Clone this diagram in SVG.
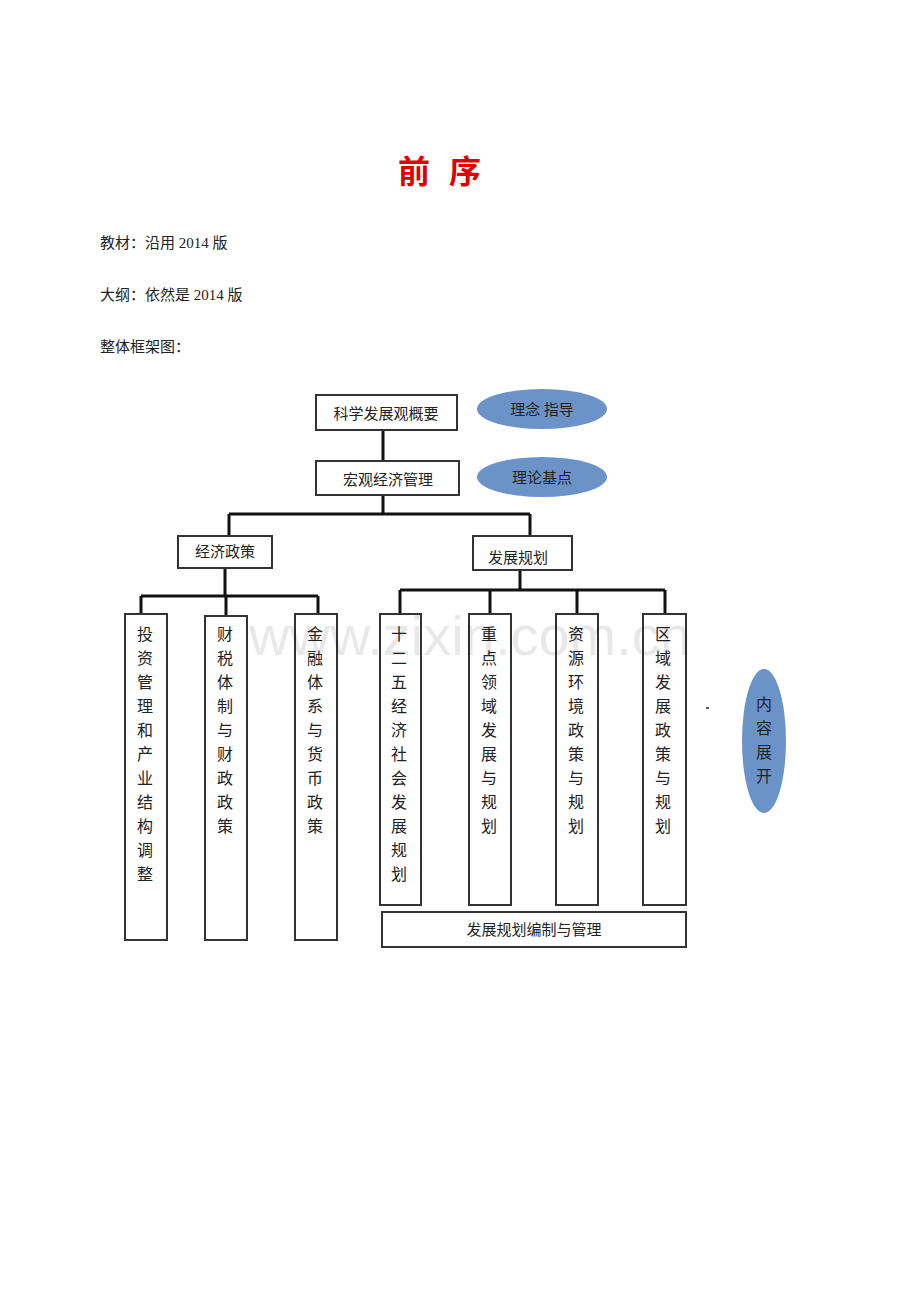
<svg xmlns="http://www.w3.org/2000/svg" width="920" height="1302" viewBox="0 0 920 1302">
<style>
text{font-family:"Noto Sans CJK SC","Liberation Sans",sans-serif;fill:#222}
.b{fill:#fff;stroke:#333;stroke-width:2}
.e{fill:#6b93c8}
.l{stroke:#111;stroke-width:3;fill:none}
.t{font-size:15px;text-anchor:middle}
.v{font-size:16px;text-anchor:middle}
.p{font-family:"Liberation Serif","Noto Sans CJK SC",serif;font-size:15px}
.r{font-size:32px;font-weight:bold;text-anchor:middle;fill:#e00000}
</style>
<rect width="920" height="1302" fill="#fff"/>
<text class="r" x="414" y="183">前</text>
<text class="r" x="465" y="183">序</text>
<text class="p" x="100" y="248">教材：沿用 2014 版</text>
<text class="p" x="100" y="300">大纲：依然是 2014 版</text>
<text class="p" x="100" y="352">整体框架图：</text>
<g id="connectors">
<path class="l" d="M383 430V461M383 495V514M229 514H530M229 514V538M530 514V538M225 568V596M141 596H318M141 596V615M226 596V617M318 596V615M520 570V590M400 590H665M400 590V615M490 590V615M577 590V615M665 590V615"/>
</g>
<g id="n1"><rect class="b" x="316" y="395" width="141" height="35"/><text class="t" x="386" y="419">科学发展观概要</text></g>
<g id="e1"><ellipse class="e" cx="542" cy="409" rx="65" ry="20"/><text class="t" x="542" y="415">理念 指导</text></g>
<g id="n2"><rect class="b" x="316" y="461" width="143" height="34"/><text class="t" x="388" y="485">宏观经济管理</text></g>
<g id="e2"><ellipse class="e" cx="542" cy="477" rx="65" ry="20"/><text class="t" x="542" y="483">理论基点</text></g>
<g id="n3"><rect class="b" x="178" y="536" width="94" height="32"/><text class="t" x="225" y="557">经济政策</text></g>
<g id="n4"><rect class="b" x="473" y="536" width="99" height="34"/><text class="t" x="518" y="563">发展规划</text></g>
<g id="c1"><rect class="b" x="125" y="614" width="42" height="326"/><text class="v"><tspan x="145" y="640">投</tspan><tspan x="145" y="664">资</tspan><tspan x="145" y="688">管</tspan><tspan x="145" y="712">理</tspan><tspan x="145" y="736">和</tspan><tspan x="145" y="760">产</tspan><tspan x="145" y="784">业</tspan><tspan x="145" y="808">结</tspan><tspan x="145" y="832">构</tspan><tspan x="145" y="856">调</tspan><tspan x="145" y="880">整</tspan></text></g>
<g id="c2"><rect class="b" x="205" y="616" width="42" height="324"/><text class="v"><tspan x="225" y="640">财</tspan><tspan x="225" y="664">税</tspan><tspan x="225" y="688">体</tspan><tspan x="225" y="712">制</tspan><tspan x="225" y="736">与</tspan><tspan x="225" y="760">财</tspan><tspan x="225" y="784">政</tspan><tspan x="225" y="808">政</tspan><tspan x="225" y="832">策</tspan></text></g>
<g id="c3"><rect class="b" x="295" y="614" width="42" height="326"/><text class="v"><tspan x="315" y="640">金</tspan><tspan x="315" y="664">融</tspan><tspan x="315" y="688">体</tspan><tspan x="315" y="712">系</tspan><tspan x="315" y="736">与</tspan><tspan x="315" y="760">货</tspan><tspan x="315" y="784">币</tspan><tspan x="315" y="808">政</tspan><tspan x="315" y="832">策</tspan></text></g>
<g id="c4"><rect class="b" x="380" y="614" width="41" height="291"/><text class="v"><tspan x="399" y="640">十</tspan><tspan x="399" y="664">二</tspan><tspan x="399" y="688">五</tspan><tspan x="399" y="712">经</tspan><tspan x="399" y="736">济</tspan><tspan x="399" y="760">社</tspan><tspan x="399" y="784">会</tspan><tspan x="399" y="808">发</tspan><tspan x="399" y="832">展</tspan><tspan x="399" y="856">规</tspan><tspan x="399" y="880">划</tspan></text></g>
<g id="c5"><rect class="b" x="469" y="614" width="42" height="291"/><text class="v"><tspan x="489" y="640">重</tspan><tspan x="489" y="664">点</tspan><tspan x="489" y="688">领</tspan><tspan x="489" y="712">域</tspan><tspan x="489" y="736">发</tspan><tspan x="489" y="760">展</tspan><tspan x="489" y="784">与</tspan><tspan x="489" y="808">规</tspan><tspan x="489" y="832">划</tspan></text></g>
<g id="c6"><rect class="b" x="556" y="614" width="42" height="291"/><text class="v"><tspan x="576" y="640">资</tspan><tspan x="576" y="664">源</tspan><tspan x="576" y="688">环</tspan><tspan x="576" y="712">境</tspan><tspan x="576" y="736">政</tspan><tspan x="576" y="760">策</tspan><tspan x="576" y="784">与</tspan><tspan x="576" y="808">规</tspan><tspan x="576" y="832">划</tspan></text></g>
<g id="c7"><rect class="b" x="643" y="614" width="43" height="291"/><text class="v"><tspan x="663" y="640">区</tspan><tspan x="663" y="664">域</tspan><tspan x="663" y="688">发</tspan><tspan x="663" y="712">展</tspan><tspan x="663" y="736">政</tspan><tspan x="663" y="760">策</tspan><tspan x="663" y="784">与</tspan><tspan x="663" y="808">规</tspan><tspan x="663" y="832">划</tspan></text></g>
<g id="n5"><rect class="b" x="382" y="912" width="304" height="35"/><text class="t" x="534" y="935">发展规划编制与管理</text></g>
<g id="e3"><ellipse class="e" cx="764" cy="741" rx="22" ry="72"/><text class="v"><tspan x="764" y="710">内</tspan><tspan x="764" y="734">容</tspan><tspan x="764" y="758">展</tspan><tspan x="764" y="782">开</tspan></text></g>
<rect x="706" y="707" width="3" height="2" fill="#555"/>
<text x="470" y="655" font-size="56" text-anchor="middle" style="fill:#000;fill-opacity:0.09;font-family:'Liberation Sans',sans-serif">www.zixin.com.cn</text>
</svg>
